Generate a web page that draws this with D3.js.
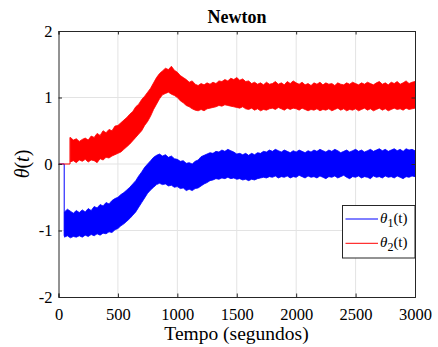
<!DOCTYPE html>
<html>
<head>
<meta charset="utf-8">
<script src="https://cdn.jsdelivr.net/npm/d3@7/dist/d3.min.js"></script>
<style>
  html, body { margin: 0; padding: 0; background: #fff; }
  svg { display: block; }
  text { font-family: "Liberation Serif", "DejaVu Serif", serif; fill: #000; }
</style>
</head>
<body>
<svg id="chart" width="438" height="347"></svg>
<script>
// ---------------- data ----------------
const titleText = "Newton";
const xLabelText = "Tempo (segundos)";
const xTicks = [0, 500, 1000, 1500, 2000, 2500, 3000];
const yTicks = [-2, -1, 0, 1, 2];
const yTickLabels = ["-2", "-1", "0", "1", "2"];
const seriesNames = ["1", "2"];   // subscripts of theta
const seriesColors = ["#0000ff", "#ff0000"];

// initial (pre-noise) parts: time, value
const blueStartT = [0, 48, 48];
const blueStartV = [0, 0, -1.08];
const redStartT = [0, 97, 97];
const redStartV = [0, 0, 0.40];

// noisy band envelopes, sampled every 25 s
const blueT0 = 50, redT0 = 100, sampleStep = 25;

const blueHi = [-0.72,-0.68,-0.71,-0.74,-0.70,-0.73,-0.69,-0.72,-0.67,-0.70,-0.64,-0.66,-0.61,-0.63,-0.58,-0.60,-0.55,-0.52,-0.50,-0.46,
 -0.43,-0.39,-0.35,-0.30,-0.25,-0.18,-0.12,-0.05,0.00,0.05,0.10,0.13,0.15,0.12,0.14,0.10,0.12,0.08,0.07,0.04,
 0.05,0.01,0.02,0.00,0.04,0.06,0.11,0.13,0.15,0.17,0.16,0.19,0.18,0.21,0.19,0.22,0.20,0.18,0.15,0.16,
 0.14,0.16,0.13,0.16,0.14,0.17,0.16,0.19,0.18,0.21,0.19,0.22,0.20,0.18,0.21,0.19,0.17,0.20,0.18,0.21,
 0.19,0.17,0.20,0.18,0.21,0.19,0.22,0.20,0.18,0.21,0.19,0.22,0.20,0.17,0.19,0.21,0.18,0.20,0.22,0.19,
 0.21,0.18,0.20,0.22,0.19,0.21,0.23,0.20,0.22,0.19,0.21,0.23,0.20,0.22,0.19,0.23,0.21,0.22,0.20];
const blueLo = [-1.10,-1.08,-1.11,-1.09,-1.10,-1.08,-1.10,-1.07,-1.09,-1.06,-1.08,-1.05,-1.07,-1.04,-1.05,-1.02,-1.03,-0.99,-0.97,-0.93,
 -0.90,-0.86,-0.82,-0.77,-0.72,-0.65,-0.58,-0.51,-0.44,-0.39,-0.35,-0.31,-0.29,-0.31,-0.30,-0.33,-0.32,-0.35,-0.34,-0.37,
 -0.36,-0.40,-0.38,-0.40,-0.37,-0.36,-0.33,-0.30,-0.28,-0.25,-0.24,-0.22,-0.23,-0.21,-0.22,-0.20,-0.22,-0.21,-0.23,-0.22,
 -0.24,-0.23,-0.25,-0.23,-0.24,-0.22,-0.21,-0.20,-0.21,-0.19,-0.20,-0.18,-0.21,-0.19,-0.20,-0.18,-0.21,-0.19,-0.20,-0.17,
 -0.19,-0.21,-0.18,-0.20,-0.19,-0.21,-0.18,-0.20,-0.22,-0.19,-0.20,-0.18,-0.21,-0.19,-0.17,-0.20,-0.22,-0.19,-0.20,-0.18,
 -0.21,-0.19,-0.20,-0.22,-0.18,-0.20,-0.19,-0.21,-0.18,-0.20,-0.19,-0.21,-0.18,-0.20,-0.22,-0.19,-0.20,-0.18,-0.19];

const redHi = [0.40,0.36,0.38,0.34,0.37,0.39,0.36,0.42,0.40,0.46,0.43,0.50,0.47,0.52,0.50,0.57,0.58,0.62,0.66,0.70,
 0.75,0.79,0.86,0.90,0.97,1.02,1.08,1.14,1.22,1.30,1.36,1.40,1.44,1.42,1.47,1.41,1.38,1.33,1.30,1.27,
 1.23,1.25,1.20,1.18,1.21,1.19,1.22,1.20,1.23,1.21,1.25,1.24,1.27,1.25,1.29,1.27,1.30,1.26,1.28,1.24,
 1.25,1.21,1.23,1.20,1.22,1.19,1.23,1.20,1.21,1.24,1.20,1.22,1.19,1.24,1.21,1.25,1.22,1.20,1.23,1.19,
 1.21,1.18,1.22,1.20,1.23,1.19,1.22,1.20,1.21,1.18,1.22,1.20,1.19,1.22,1.20,1.23,1.21,1.19,1.22,1.20,
 1.23,1.21,1.19,1.22,1.24,1.20,1.22,1.19,1.23,1.21,1.24,1.20,1.22,1.25,1.21,1.23,1.24];
const redLo = [0.03,0.05,0.02,0.06,0.04,0.07,0.03,0.06,0.05,0.02,0.08,0.06,0.10,0.09,0.12,0.14,0.16,0.18,0.22,0.26,
 0.30,0.35,0.40,0.45,0.50,0.58,0.64,0.72,0.82,0.90,0.98,1.04,1.06,1.08,1.05,1.03,1.00,0.95,0.92,0.88,
 0.86,0.83,0.81,0.80,0.82,0.80,0.83,0.84,0.85,0.86,0.88,0.87,0.89,0.88,0.87,0.86,0.85,0.84,0.86,0.83,
 0.82,0.84,0.81,0.83,0.80,0.82,0.81,0.83,0.84,0.82,0.85,0.83,0.81,0.84,0.82,0.84,0.83,0.81,0.84,0.82,
 0.80,0.82,0.81,0.83,0.80,0.82,0.81,0.83,0.80,0.82,0.84,0.81,0.83,0.80,0.82,0.81,0.83,0.80,0.82,0.84,
 0.81,0.83,0.80,0.82,0.84,0.81,0.83,0.80,0.82,0.84,0.82,0.83,0.81,0.84,0.82,0.83,0.84];

// ---------------- layout ----------------
const plot = { left: 58.5, right: 415, top: 31, bottom: 297 };
const axisColor = "#262626";
const gridColor = "#e3e3e3";
const serif = '"Liberation Serif", "DejaVu Serif", serif';

const svg = d3.select("#chart");
const x = d3.scaleLinear().domain([0, 3000]).range([plot.left, plot.right]);
const y = d3.scaleLinear().domain([-2, 2]).range([plot.bottom, plot.top]);

function band(t0, hi, lo) {
  const n = Math.min(hi.length, lo.length);
  return d3.range(n).map(i => ({ t: t0 + i * sampleStep, hi: hi[i], lo: lo[i] }));
}
const blueBand = band(blueT0, blueHi, blueLo);
const redBand = band(redT0, redHi, redLo);

// grid
const grid = svg.append("g");
grid.selectAll("line.gx").data(xTicks.slice(1, -1)).enter().append("line")
  .attr("x1", d => x(d)).attr("x2", d => x(d))
  .attr("y1", plot.top).attr("y2", plot.bottom)
  .attr("stroke", gridColor).attr("stroke-width", 1);
grid.selectAll("line.gy").data(yTicks.slice(1, -1)).enter().append("line")
  .attr("x1", plot.left).attr("x2", plot.right)
  .attr("y1", d => y(d)).attr("y2", d => y(d))
  .attr("stroke", gridColor).attr("stroke-width", 1);

// clip
svg.append("clipPath").attr("id", "clip").append("rect")
  .attr("x", plot.left).attr("y", plot.top)
  .attr("width", plot.right - plot.left).attr("height", plot.bottom - plot.top);
const g = svg.append("g").attr("clip-path", "url(#clip)");

const area = d3.area().x(d => x(d.t)).y0(d => y(d.lo)).y1(d => y(d.hi));
const line = d3.line().x(d => x(d[0])).y(d => y(d[1]));

// blue (theta1)
g.append("path").datum(blueStartT.map((t, i) => [t, blueStartV[i]]))
  .attr("d", line).attr("fill", "none").attr("stroke", seriesColors[0]).attr("stroke-width", 1);
g.append("path").datum(blueBand).attr("d", area)
  .attr("fill", seriesColors[0]).attr("stroke", seriesColors[0]).attr("stroke-width", 0.8);

// red (theta2)
g.append("path").datum(redStartT.map((t, i) => [t, redStartV[i]]))
  .attr("d", line).attr("fill", "none").attr("stroke", seriesColors[1]).attr("stroke-width", 1);
g.append("path").datum(redBand).attr("d", area)
  .attr("fill", seriesColors[1]).attr("stroke", seriesColors[1]).attr("stroke-width", 0.8);

// axes box
const tickLen = 3.5;
const axG = svg.append("g");
const bottomAxis = d3.axisBottom(x).tickValues(xTicks).tickSize(-tickLen).tickPadding(10).tickFormat(d3.format("d"));
const topAxis = d3.axisTop(x).tickValues(xTicks).tickSize(-tickLen).tickFormat("");
const leftAxis = d3.axisLeft(y).tickValues(yTicks).tickSize(-tickLen).tickPadding(6).tickFormat((d, i) => yTickLabels[i]);
const rightAxis = d3.axisRight(y).tickValues(yTicks).tickSize(-tickLen).tickFormat("");

function styleAxis(sel) {
  sel.attr("font-family", serif).attr("font-size", 16.5);
  sel.select(".domain").attr("stroke", axisColor).attr("stroke-width", 1);
  sel.selectAll(".tick line").attr("stroke", axisColor).attr("stroke-width", 1);
  sel.selectAll(".tick text").attr("fill", "#000")
    .style("font-family", serif).style("font-size", "16.5px");
}
axG.append("g").attr("transform", `translate(0,${plot.bottom})`).call(bottomAxis).call(styleAxis)
  .selectAll(".tick text").attr("dy", null).attr("y", 23);
axG.append("g").attr("transform", `translate(0,${plot.top})`).call(topAxis).call(styleAxis);
axG.append("g").attr("transform", `translate(${plot.left},0)`).call(leftAxis).call(styleAxis);
axG.append("g").attr("transform", `translate(${plot.right},0)`).call(rightAxis).call(styleAxis);

// title
svg.append("text").attr("x", 237).attr("y", 22.7).attr("text-anchor", "middle")
  .style("font-family", serif).style("font-weight", "bold").style("font-size", "18px").text(titleText);

// x label
svg.append("text").attr("x", 236.5).attr("y", 340).attr("text-anchor", "middle")
  .style("font-family", serif).style("font-size", "19.5px").text(xLabelText);

// y label: θ(t)
const yl = svg.append("text").attr("transform", "translate(29,164) rotate(-90)")
  .attr("text-anchor", "middle").style("font-family", serif).style("font-size", "20px");
yl.append("tspan").style("font-style", "italic").text("θ");
yl.append("tspan").text("(");
yl.append("tspan").style("font-style", "italic").text("t");
yl.append("tspan").text(")");

// legend
const leg = svg.append("g");
leg.append("rect").attr("x", 342.5).attr("y", 205.5).attr("width", 72.5).attr("height", 52.5)
  .attr("fill", "#fff").attr("stroke", axisColor).attr("stroke-width", 1);
const legY = [219, 243.3];
seriesNames.forEach((name, i) => {
  leg.append("line").attr("x1", 345.5).attr("x2", 378).attr("y1", legY[i]).attr("y2", legY[i])
    .attr("stroke", seriesColors[i]).attr("stroke-width", 1);
  const t = leg.append("text").attr("x", 380).attr("y", legY[i] + 4)
    .style("font-family", serif).style("font-size", "15px");
  t.append("tspan").style("font-style", "italic").text("θ");
  t.append("tspan").attr("dy", 4).style("font-size", "12px").text(name);
  t.append("tspan").attr("dy", -4).text("(t)");
});
</script>
</body>
</html>
